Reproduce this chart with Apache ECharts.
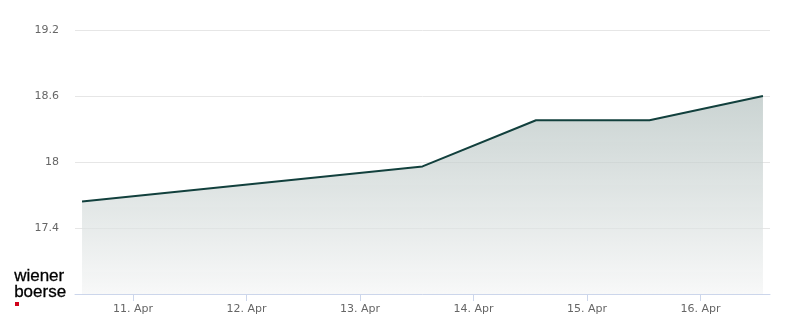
<!DOCTYPE html>
<html><head><meta charset="utf-8">
<script src="https://cdn.jsdelivr.net/npm/echarts@6/dist/echarts.min.js"></script>
<style>html,body{margin:0;padding:0;background:#fff}#c{width:800px;height:324px}</style>
</head><body><div id="c"></div>
<script>
// x in days (April day-of-month, fractional = time of day)
var xDays = [10.55, 13.55, 14.55, 15.55, 16.55];
var prices = [17.64, 17.96, 18.38, 18.38, 18.60];
var tickDays = [11, 12, 13, 14, 15, 16];
var tickLabels = ['11. Apr', '12. Apr', '13. Apr', '14. Apr', '15. Apr', '16. Apr'];
var yTicks = [17.4, 18, 18.6, 19.2];

var data = xDays.map(function (d, i) { return [d, prices[i]]; });
var chart = echarts.init(document.getElementById('c'));
chart.setOption({
  animation: false,
  grid: { left: 75, right: 30, top: 30, bottom: 30 },
  xAxis: {
    type: 'value',
    min: 10.488, max: 16.612,
    splitLine: { show: false },
    axisLine: { show: true, lineStyle: { color: '#ccd6eb', width: 1 } },
    axisTick: { show: true, customValues: tickDays, length: 7, lineStyle: { color: '#ccd6eb' } },
    axisLabel: {
      customValues: tickDays, color: '#666', fontSize: 11, fontFamily: 'DejaVu Sans', margin: 10,
      formatter: function (v) { var i = tickDays.indexOf(Math.round(v)); return i >= 0 ? tickLabels[i] : ''; }
    }
  },
  yAxis: {
    type: 'value', min: 16.8, max: 19.2, interval: 0.6,
    axisLine: { show: false }, axisTick: { show: false },
    splitLine: { lineStyle: { color: '#e6e6e6' } },
    axisLabel: {
      color: '#666', fontSize: 11, fontFamily: 'DejaVu Sans', margin: 16,
      formatter: function (v) {
        for (var i = 0; i < yTicks.length; i++) if (Math.abs(v - yTicks[i]) < 1e-6) return String(yTicks[i]);
        return '';
      }
    }
  },
  series: [{
    type: 'line', data: data, symbol: 'none',
    lineStyle: { color: '#12403d', width: 2 },
    areaStyle: {
      color: new echarts.graphic.LinearGradient(0, 0, 0, 1, [
        { offset: 0, color: 'rgba(176,190,188,0.95)' },
        { offset: 1, color: 'rgba(244,245,245,1)' }
      ])
    }
  }],
  graphic: [
    { type: 'text', left: 14, top: 268, style: { text: 'wiener', fontSize: 17, fontFamily: 'Liberation Sans', fill: '#000', stroke: '#000', lineWidth: 0.3 } },
    { type: 'text', left: 14, top: 284, style: { text: 'boerse', fontSize: 17, fontFamily: 'Liberation Sans', fill: '#000', stroke: '#000', lineWidth: 0.3 } },
    { type: 'rect', shape: { x: 15, y: 302, width: 4, height: 4 }, style: { fill: '#d0021b' } }
  ]
});
</script></body></html>
